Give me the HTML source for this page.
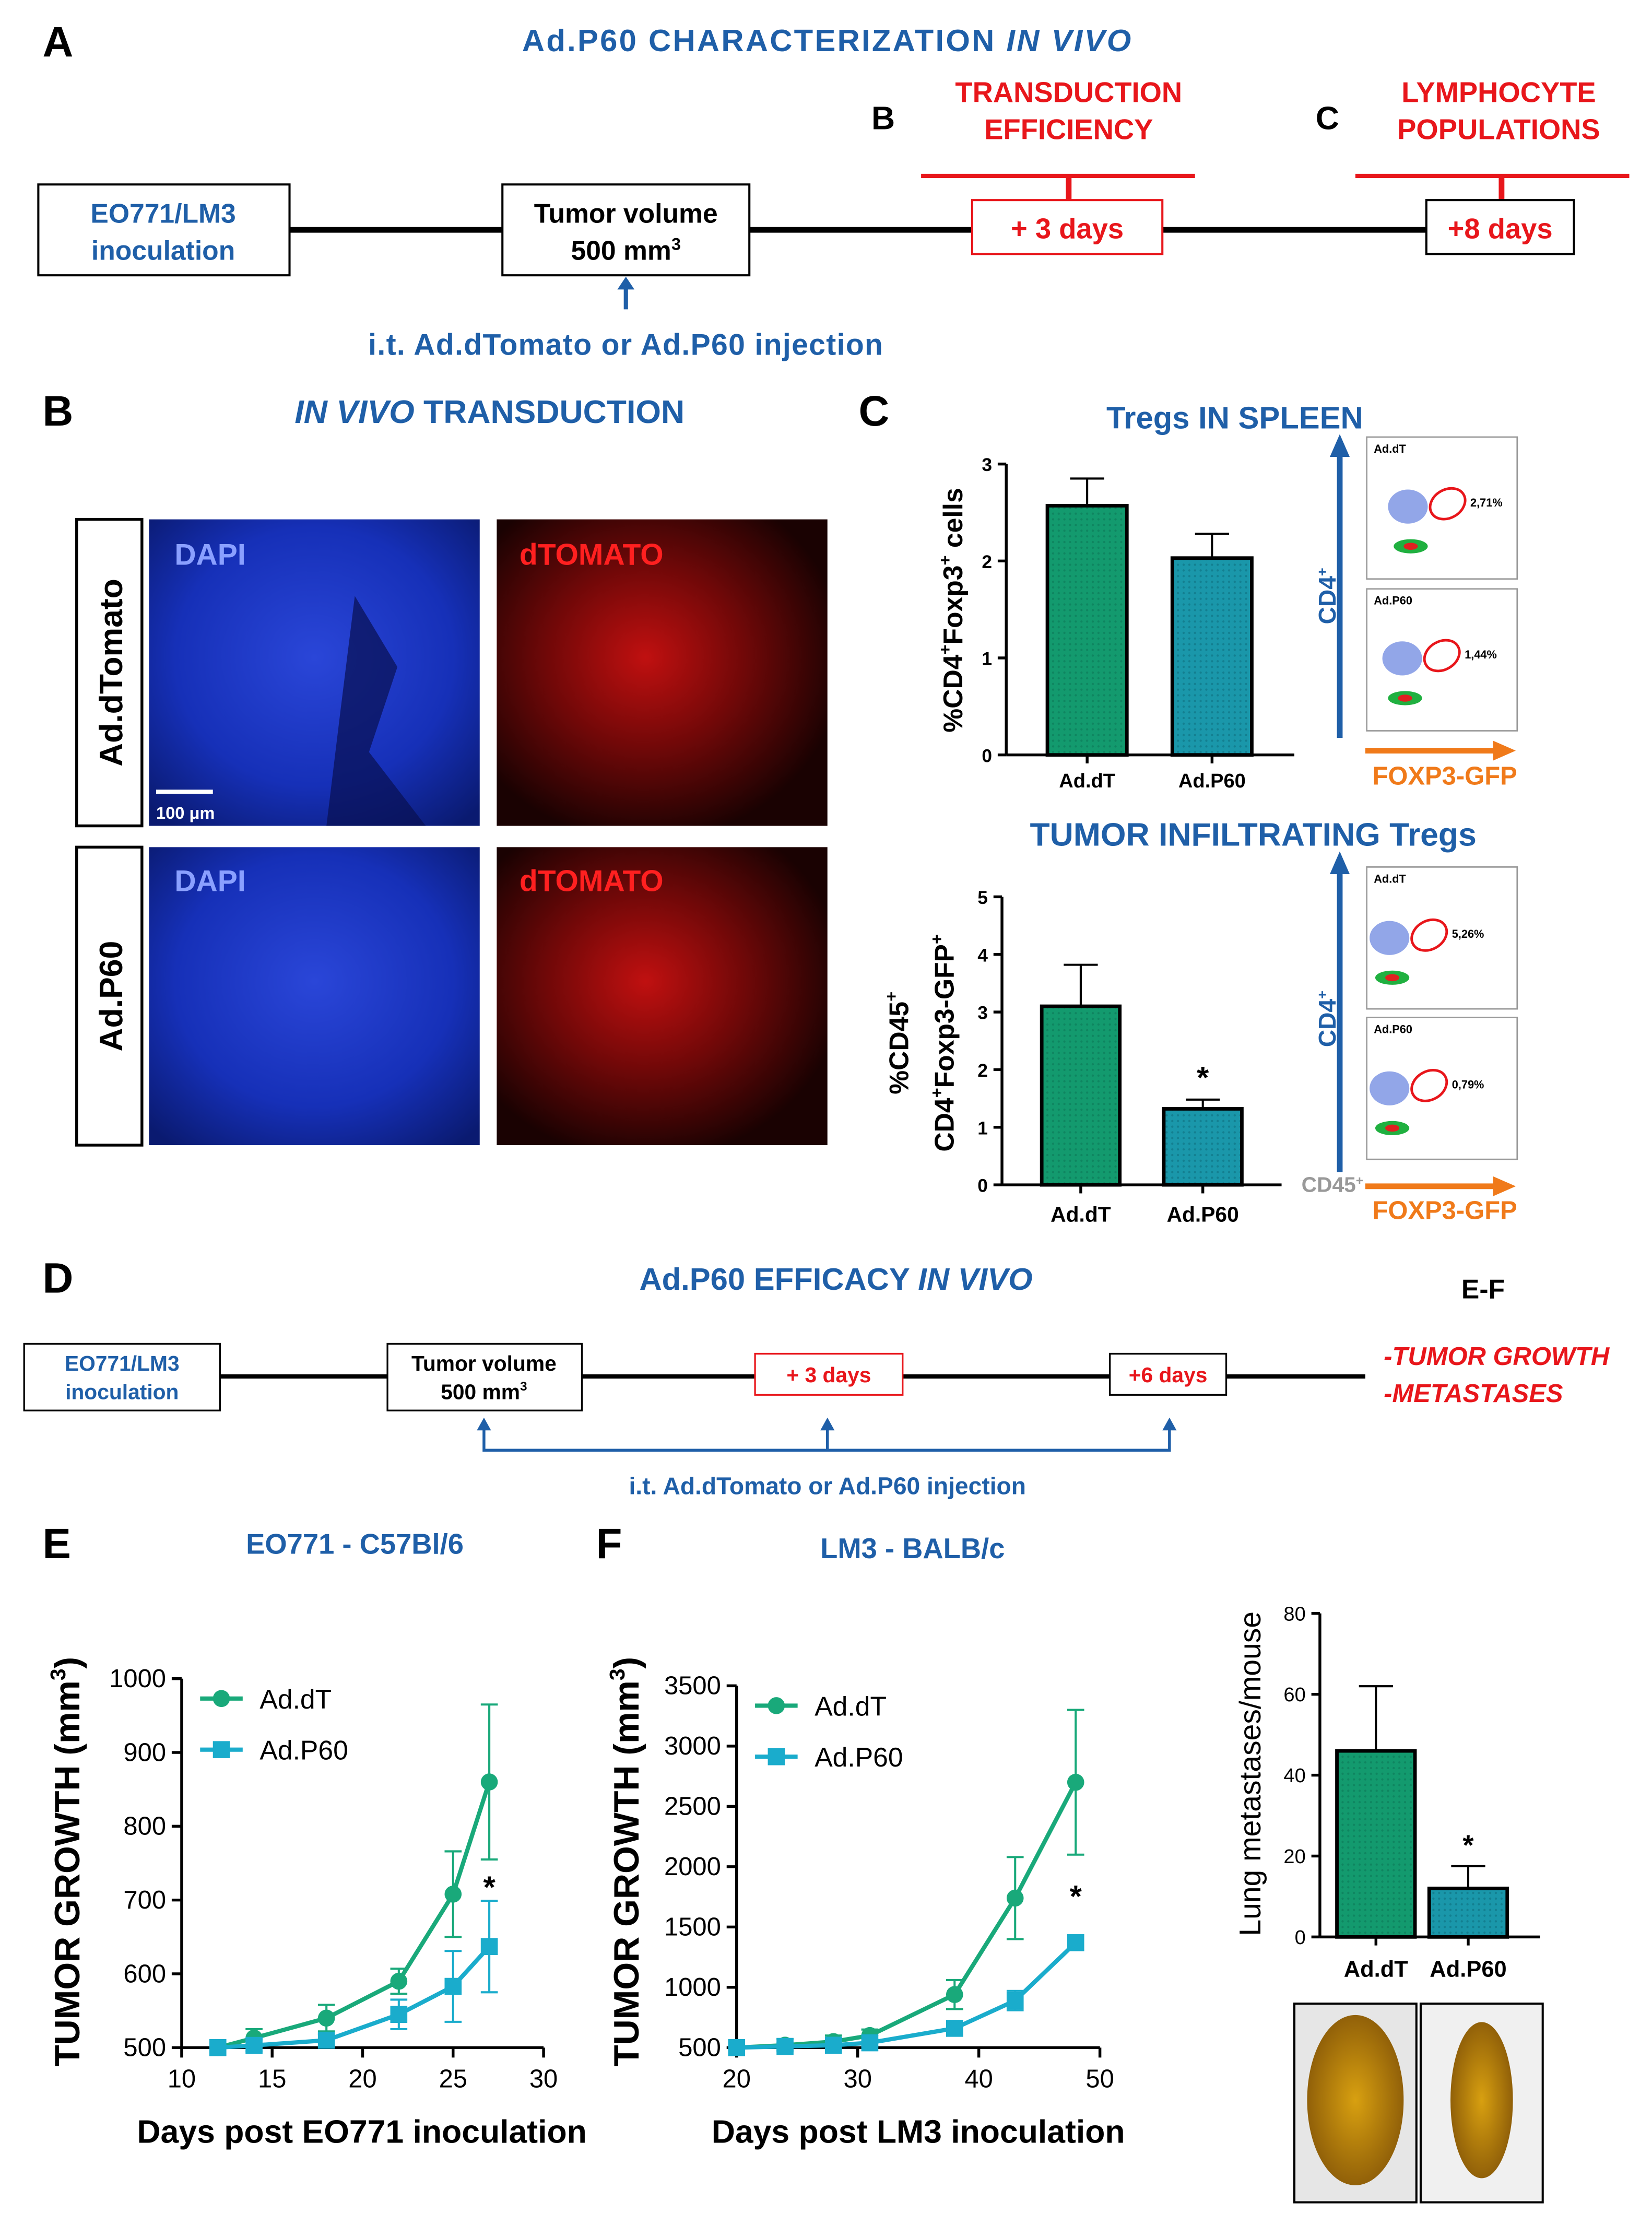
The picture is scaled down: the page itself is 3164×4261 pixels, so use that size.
<!DOCTYPE html>
<html><head><meta charset="utf-8">
<style>
html,body{margin:0;padding:0;background:#fff;}
svg{display:block;}
text{font-family:"Liberation Sans",sans-serif;}
</style></head>
<body>
<svg id="fig" width="3164" height="4261" viewBox="0 0 1164 1568" preserveAspectRatio="none" xmlns="http://www.w3.org/2000/svg">
<defs>
<pattern id="dots" width="4" height="4" patternUnits="userSpaceOnUse"><rect width="4" height="4" fill="#1a97aa"/><circle cx="2" cy="2" r="0.8" fill="#137f90"/></pattern>
<pattern id="dotsg" width="4" height="4" patternUnits="userSpaceOnUse"><rect width="4" height="4" fill="#139a6e"/><circle cx="2" cy="2" r="0.8" fill="#0f8560"/></pattern>
<radialGradient id="blue1" cx="50%" cy="45%" r="70%"><stop offset="0" stop-color="#2a46d8"/><stop offset="0.6" stop-color="#1630b8"/><stop offset="1" stop-color="#0a1a70"/></radialGradient>
<radialGradient id="red1" cx="45%" cy="45%" r="60%"><stop offset="0" stop-color="#c01010"/><stop offset="0.5" stop-color="#700808"/><stop offset="1" stop-color="#1a0202"/></radialGradient>
<radialGradient id="lung" cx="50%" cy="50%" r="55%"><stop offset="0" stop-color="#d8a010"/><stop offset="1" stop-color="#8a5a08"/></radialGradient>
</defs>

<!-- Panel A -->
<g>
<text x="30" y="40" font-size="30" font-weight="bold">A</text>
<text x="583" y="36" font-size="22" font-weight="bold" fill="#1f5fa8" text-anchor="middle" letter-spacing="1.2">Ad.P60 CHARACTERIZATION <tspan font-style="italic">IN VIVO</tspan></text>
<line x1="204" y1="162" x2="1005" y2="162" stroke="#000" stroke-width="4"/>
<rect x="27" y="130" width="177" height="64" fill="#fff" stroke="#000" stroke-width="1.5"/>
<text x="115" y="157" font-size="19" font-weight="bold" fill="#1f5fa8" text-anchor="middle">EO771/LM3</text>
<text x="115" y="183" font-size="19" font-weight="bold" fill="#1f5fa8" text-anchor="middle">inoculation</text>
<rect x="354" y="130" width="174" height="64" fill="#fff" stroke="#000" stroke-width="1.5"/>
<text x="441" y="157" font-size="19" font-weight="bold" text-anchor="middle">Tumor volume</text>
<text x="441" y="183" font-size="19" font-weight="bold" text-anchor="middle">500 mm<tspan font-size="12" dy="-7">3</tspan></text>
<line x1="441" y1="218" x2="441" y2="201" stroke="#1f5fa8" stroke-width="3"/>
<polygon points="435,204 447,204 441,195" fill="#1f5fa8"/>
<text x="441" y="250" font-size="21" font-weight="bold" fill="#1f5fa8" text-anchor="middle" letter-spacing="0.5">i.t. Ad.dTomato or Ad.P60 injection</text>
<text x="614" y="91" font-size="23" font-weight="bold">B</text>
<text x="753" y="72" font-size="20" font-weight="bold" fill="#e8161b" text-anchor="middle">TRANSDUCTION</text>
<text x="753" y="98" font-size="20" font-weight="bold" fill="#e8161b" text-anchor="middle">EFFICIENCY</text>
<line x1="649" y1="124" x2="842" y2="124" stroke="#e8161b" stroke-width="3"/>
<line x1="753" y1="124" x2="753" y2="142" stroke="#e8161b" stroke-width="4"/>
<rect x="685" y="141" width="134" height="38" fill="#fff" stroke="#e8161b" stroke-width="1.5"/>
<text x="752" y="168" font-size="20" font-weight="bold" fill="#e8161b" text-anchor="middle">+ 3 days</text>
<text x="927" y="91" font-size="23" font-weight="bold">C</text>
<text x="1056" y="72" font-size="20" font-weight="bold" fill="#e8161b" text-anchor="middle">LYMPHOCYTE</text>
<text x="1056" y="98" font-size="20" font-weight="bold" fill="#e8161b" text-anchor="middle">POPULATIONS</text>
<line x1="955" y1="124" x2="1148" y2="124" stroke="#e8161b" stroke-width="3"/>
<line x1="1058" y1="124" x2="1058" y2="142" stroke="#e8161b" stroke-width="4"/>
<rect x="1005" y="141" width="104" height="38" fill="#fff" stroke="#000" stroke-width="1.5"/>
<text x="1057" y="168" font-size="20" font-weight="bold" fill="#e8161b" text-anchor="middle">+8 days</text>
</g>

<!-- Panel B -->
<g>
<text x="30" y="300" font-size="30" font-weight="bold">B</text>
<text x="345" y="298" font-size="23" font-weight="bold" fill="#1f5fa8" text-anchor="middle"><tspan font-style="italic">IN VIVO</tspan> TRANSDUCTION</text>
<rect x="54" y="366" width="46" height="216" fill="#fff" stroke="#000" stroke-width="2"/>
<text transform="translate(86,474) rotate(-90)" font-size="23" font-weight="bold" text-anchor="middle">Ad.dTomato</text>
<rect x="54" y="597" width="46" height="210" fill="#fff" stroke="#000" stroke-width="2"/>
<text transform="translate(86,702) rotate(-90)" font-size="23" font-weight="bold" text-anchor="middle">Ad.P60</text>
<rect x="105" y="366" width="233" height="216" fill="url(#blue1)"/>
<path d="M250,420 L280,470 L260,530 L300,582 L230,582 L240,500 Z" fill="#081050" opacity="0.7"/>
<text x="123" y="398" font-size="21" font-weight="bold" fill="#8aa0ff">DAPI</text>
<line x1="110" y1="558" x2="150" y2="558" stroke="#fff" stroke-width="3"/>
<text x="110" y="577" font-size="12" font-weight="bold" fill="#fff">100 μm</text>
<rect x="350" y="366" width="233" height="216" fill="url(#red1)"/>
<text x="366" y="398" font-size="21" font-weight="bold" fill="#ff2020">dTOMATO</text>
<rect x="105" y="597" width="233" height="210" fill="url(#blue1)"/>
<text x="123" y="628" font-size="21" font-weight="bold" fill="#8aa0ff">DAPI</text>
<rect x="350" y="597" width="233" height="210" fill="url(#red1)"/>
<text x="366" y="628" font-size="21" font-weight="bold" fill="#ff2020">dTOMATO</text>
</g>

<!-- Panel C -->
<g>
<text x="605" y="300" font-size="30" font-weight="bold">C</text>
<text x="870" y="302" font-size="22" font-weight="bold" fill="#1f5fa8" text-anchor="middle">Tregs IN SPLEEN</text>
<text x="883" y="596" font-size="23" font-weight="bold" fill="#1f5fa8" text-anchor="middle">TUMOR INFILTRATING  Tregs</text>
<text transform="translate(678,430) rotate(-90)" font-size="19" font-weight="bold" text-anchor="middle">%CD4<tspan font-size="12" dy="-8">+</tspan><tspan dy="8">Foxp3</tspan><tspan font-size="12" dy="-8">+</tspan><tspan dy="8"> cells</tspan></text>
<text transform="translate(640,735) rotate(-90)" font-size="19" font-weight="bold" text-anchor="middle">%CD45<tspan font-size="12" dy="-8">+</tspan></text>
<text transform="translate(672,735) rotate(-90)" font-size="19" font-weight="bold" text-anchor="middle">CD4<tspan font-size="12" dy="-8">+</tspan><tspan dy="8">Foxp3-GFP</tspan><tspan font-size="12" dy="-8">+</tspan></text>
<g id="spleenChart"></g>
<g id="tumorChart"></g>
<line x1="944" y1="520" x2="944" y2="318" stroke="#1f5fa8" stroke-width="4"/><polygon points="937,322 951,322 944,306" fill="#1f5fa8"/>
<text transform="translate(941,420) rotate(-90)" font-size="17" font-weight="bold" fill="#1f5fa8" text-anchor="middle">CD4<tspan font-size="10" dy="-6">+</tspan></text>
<line x1="962" y1="529" x2="1055" y2="529" stroke="#f07a1a" stroke-width="4"/><polygon points="1052,522 1052,536 1068,529" fill="#f07a1a"/>
<text x="1018" y="553" font-size="18" font-weight="bold" fill="#f07a1a" text-anchor="middle">FOXP3-GFP</text>
<line x1="944" y1="826" x2="944" y2="612" stroke="#1f5fa8" stroke-width="4"/><polygon points="937,616 951,616 944,600" fill="#1f5fa8"/>
<text transform="translate(941,718) rotate(-90)" font-size="17" font-weight="bold" fill="#1f5fa8" text-anchor="middle">CD4<tspan font-size="10" dy="-6">+</tspan></text>
<text x="917" y="840" font-size="15" font-weight="bold" fill="#999">CD45<tspan font-size="9" dy="-5">+</tspan></text>
<line x1="962" y1="836" x2="1055" y2="836" stroke="#f07a1a" stroke-width="4"/><polygon points="1052,829 1052,843 1068,836" fill="#f07a1a"/>
<text x="1018" y="859" font-size="18" font-weight="bold" fill="#f07a1a" text-anchor="middle">FOXP3-GFP</text>
<g id="flows"></g>
</g>

<!-- Panel D -->
<g>
<text x="30" y="911" font-size="30" font-weight="bold">D</text>
<text x="589" y="909" font-size="22" font-weight="bold" fill="#1f5fa8" text-anchor="middle">Ad.P60 EFFICACY <tspan font-style="italic">IN VIVO</tspan></text>
<text x="1045" y="915" font-size="19" font-weight="bold" text-anchor="middle">E-F</text>
<line x1="155" y1="970" x2="962" y2="970" stroke="#000" stroke-width="3"/>
<rect x="17" y="947" width="138" height="47" fill="#fff" stroke="#000" stroke-width="1.2"/>
<text x="86" y="966" font-size="15" font-weight="bold" fill="#1f5fa8" text-anchor="middle">EO771/LM3</text>
<text x="86" y="986" font-size="15" font-weight="bold" fill="#1f5fa8" text-anchor="middle">inoculation</text>
<rect x="273" y="947" width="137" height="47" fill="#fff" stroke="#000" stroke-width="1.2"/>
<text x="341" y="966" font-size="15" font-weight="bold" text-anchor="middle">Tumor volume</text>
<text x="341" y="986" font-size="15" font-weight="bold" text-anchor="middle">500 mm<tspan font-size="9" dy="-6">3</tspan></text>
<rect x="532" y="954" width="104" height="29" fill="#fff" stroke="#e8161b" stroke-width="1.2"/>
<text x="584" y="974" font-size="15" font-weight="bold" fill="#e8161b" text-anchor="middle">+ 3 days</text>
<rect x="782" y="954" width="82" height="29" fill="#fff" stroke="#000" stroke-width="1.2"/>
<text x="823" y="974" font-size="15" font-weight="bold" fill="#e8161b" text-anchor="middle">+6 days</text>
<text x="975" y="962" font-size="18" font-weight="bold" font-style="italic" fill="#e8161b">-TUMOR GROWTH</text>
<text x="975" y="988" font-size="18" font-weight="bold" font-style="italic" fill="#e8161b">-METASTASES</text>
<path d="M341,1004 V1022 H824 V1004 M583,1004 V1022" fill="none" stroke="#1f5fa8" stroke-width="2"/>
<polygon points="336,1008 346,1008 341,999" fill="#1f5fa8"/><polygon points="578,1008 588,1008 583,999" fill="#1f5fa8"/><polygon points="819,1008 829,1008 824,999" fill="#1f5fa8"/>
<text x="583" y="1053" font-size="17" font-weight="bold" fill="#1f5fa8" text-anchor="middle">i.t. Ad.dTomato  or Ad.P60 injection</text>
</g>

<!-- Panels E / F -->
<text x="30" y="1098" font-size="30" font-weight="bold">E</text>
<text x="250" y="1095" font-size="20" font-weight="bold" fill="#1f5fa8" text-anchor="middle">EO771 - C57Bl/6</text>
<text x="420" y="1098" font-size="30" font-weight="bold">F</text>
<text x="643" y="1098" font-size="20" font-weight="bold" fill="#1f5fa8" text-anchor="middle">LM3 - BALB/c</text>
<text transform="translate(56,1312) rotate(-90)" font-size="25" font-weight="bold" text-anchor="middle">TUMOR GROWTH (mm<tspan font-size="15" dy="-10">3</tspan><tspan dy="10">)</tspan></text>
<text transform="translate(450,1312) rotate(-90)" font-size="25" font-weight="bold" text-anchor="middle">TUMOR GROWTH (mm<tspan font-size="15" dy="-10">3</tspan><tspan dy="10">)</tspan></text>
<text x="255" y="1510" font-size="23" font-weight="bold" text-anchor="middle">Days post EO771 inoculation</text>
<text x="647" y="1510" font-size="23" font-weight="bold" text-anchor="middle">Days post LM3 inoculation</text>
<g id="chartE"></g>
<g id="chartF"></g>
<text transform="translate(888,1250) rotate(-90)" font-size="21" text-anchor="middle">Lung metastases/mouse</text>
<g id="chartM"></g>
<rect x="912" y="1412" width="86" height="140" fill="#e6e6e6" stroke="#000" stroke-width="1.5"/>
<ellipse cx="955" cy="1480" rx="34" ry="60" fill="url(#lung)"/>
<rect x="1001" y="1412" width="86" height="140" fill="#f0f0f0" stroke="#000" stroke-width="1.5"/>
<ellipse cx="1044" cy="1480" rx="22" ry="55" fill="url(#lung)"/>

<script>
const spleenCats = ["Ad.dT", "Ad.P60"];
const spleenVals = [2.57, 2.03];
const spleenErr = [0.28, 0.25];
const spleenTicks = [0, 1, 2, 3];
const tumorCats = ["Ad.dT", "Ad.P60"];
const tumorVals = [3.1, 1.32];
const tumorErr = [0.72, 0.16];
const tumorTicks = [0, 1, 2, 3, 4, 5];
const eDays = [12, 14, 18, 22, 25, 27];
const eDT = [500, 513, 540, 590, 708, 860];
const eDTerr = [0, 12, 18, 17, 58, 105];
const eP60 = [500, 503, 510, 545, 583, 637];
const eP60err = [0, 8, 8, 20, 48, 62];
const eXTicks = [10, 15, 20, 25, 30];
const eYTicks = [500, 600, 700, 800, 900, 1000];
const fDays = [20, 24, 28, 31, 38, 43, 48];
const fDT = [500, 520, 550, 600, 940, 1740, 2700];
const fDTerr = [0, 50, 50, 50, 120, 340, 600];
const fP60 = [500, 510, 520, 540, 660, 890, 1370];
const fP60err = [0, 30, 30, 30, 60, 80, 60];
const fXTicks = [20, 30, 40, 50];
const fYTicks = [500, 1000, 1500, 2000, 2500, 3000, 3500];
const metCats = ["Ad.dT", "Ad.P60"];
const metVals = [46, 12];
const metErr = [16, 5.5];
const metTicks = [0, 20, 40, 60, 80];

const NS = "http://www.w3.org/2000/svg";
function mk(parent, tag, attrs, txt) {
  const e = document.createElementNS(NS, tag);
  for (const k in attrs) e.setAttribute(k, attrs[k]);
  if (txt !== undefined) e.textContent = txt;
  parent.appendChild(e);
  return e;
}

function barChart(g, cats, vals, errs, ticks, o) {
  const y = v => o.y0 - (v - ticks[0]) / (ticks[ticks.length - 1] - ticks[0]) * (o.y0 - o.y1);
  mk(g, "line", {x1: o.ax, y1: y(ticks[ticks.length-1]), x2: o.ax, y2: o.y0, stroke: "#000", "stroke-width": 2});
  mk(g, "line", {x1: o.ax, y1: o.y0, x2: o.axEnd, y2: o.y0, stroke: "#000", "stroke-width": 2});
  ticks.forEach(t => {
    const tk = mk(g, "line", {x1: o.ax - 6, y1: y(t), x2: o.ax, y2: y(t), stroke: "#000", "stroke-width": 2});
    
    
    const tl = mk(g, "text", {x: o.ax - 10, y: y(t) + 5, "font-size": o.fs, "font-weight": o.bold ? "bold" : "normal", "text-anchor": "end"}, t);
    
    
  });
  cats.forEach((c, i) => {
    const x = o.bx[i];
    const el = mk(g, "line", {x1: x + o.bw/2, y1: y(vals[i]), x2: x + o.bw/2, y2: y(vals[i] + errs[i]), stroke: "#000", "stroke-width": 1.5});
    
    
    mk(g, "line", {x1: x + o.bw/2 - 12, y1: y(vals[i] + errs[i]), x2: x + o.bw/2 + 12, y2: y(vals[i] + errs[i]), stroke: "#000", "stroke-width": 1.5});
    const r = mk(g, "rect", {x: x, y: y(vals[i]), width: o.bw, height: o.y0 - y(vals[i]), fill: i === 0 ? "url(#dotsg)" : "url(#dots)", stroke: "#000", "stroke-width": 2.5});
    
    
    mk(g, "line", {x1: x + o.bw/2, y1: o.y0, x2: x + o.bw/2, y2: o.y0 + 6, stroke: "#000", "stroke-width": 2});
    const lb = mk(g, "text", {x: x + o.bw/2, y: o.y0 + o.lblDy, "font-size": o.lfs, "font-weight": "bold", "text-anchor": "middle"}, c);
    
    
    if (o.star && o.star[i]) {
      const s = mk(g, "text", {x: x + o.bw/2, y: y(vals[i] + errs[i]) - 8, "font-size": o.starSize, "font-weight": "bold", "text-anchor": "middle"}, "*");
      
      
    }
  });
}

barChart(document.getElementById("spleenChart"), spleenCats, spleenVals, spleenErr, spleenTicks,
  {ax: 709, axEnd: 912, y0: 532, y1: 327, bx: [738, 826], bw: 56, fs: 13, bold: true, lfs: 14, lblDy: 23});
barChart(document.getElementById("tumorChart"), tumorCats, tumorVals, tumorErr, tumorTicks,
  {ax: 706, axEnd: 903, y0: 835, y1: 632, bx: [734, 820], bw: 55, fs: 13, bold: true, lfs: 15, lblDy: 26, star: [0, 1], starSize: 22});
barChart(document.getElementById("chartM"), metCats, metVals, metErr, metTicks,
  {ax: 930, axEnd: 1085, y0: 1365, y1: 1137, bx: [942, 1007], bw: 55, fs: 14, bold: false, lfs: 16, lblDy: 28, star: [0, 1], starSize: 20});

function lineChart(g, days, s1, e1, s2, e2, xt, yt, o) {
  const x = v => o.x0 + (v - xt[0]) / (xt[xt.length-1] - xt[0]) * (o.x1 - o.x0);
  const y = v => o.y0 - (v - yt[0]) / (yt[yt.length-1] - yt[0]) * (o.y0 - o.y1);
  mk(g, "line", {x1: o.x0, y1: o.y1, x2: o.x0, y2: o.y0, stroke: "#000", "stroke-width": 2});
  mk(g, "line", {x1: o.x0, y1: o.y0, x2: o.x1, y2: o.y0, stroke: "#000", "stroke-width": 2});
  yt.forEach(t => {
    mk(g, "line", {x1: o.x0 - 7, y1: y(t), x2: o.x0, y2: y(t), stroke: "#000", "stroke-width": 2});
    const l = mk(g, "text", {x: o.x0 - 11, y: y(t) + 6, "font-size": 18, "text-anchor": "end"}, t);
    
    
  });
  xt.forEach(t => {
    mk(g, "line", {x1: x(t), y1: o.y0, x2: x(t), y2: o.y0 + 7, stroke: "#000", "stroke-width": 2});
    const l = mk(g, "text", {x: x(t), y: o.y0 + 28, "font-size": 18, "text-anchor": "middle"}, t);
    
    
  });
  [[s1, e1, "#19a97a", "c"], [s2, e2, "#1aaccc", "s"]].forEach(([s, e, col, m], si) => {
    days.forEach((d, i) => {
      if (e[i] > 0) {
        mk(g, "line", {x1: x(d), y1: y(s[i] - e[i]), x2: x(d), y2: y(s[i] + e[i]), stroke: col, "stroke-width": 1.5});
        mk(g, "line", {x1: x(d) - 6, y1: y(s[i] + e[i]), x2: x(d) + 6, y2: y(s[i] + e[i]), stroke: col, "stroke-width": 1.5});
        mk(g, "line", {x1: x(d) - 6, y1: y(s[i] - e[i]), x2: x(d) + 6, y2: y(s[i] - e[i]), stroke: col, "stroke-width": 1.5});
      }
    });
    const pl = mk(g, "polyline", {points: days.map((d, i) => x(d) + "," + y(s[i])).join(" "), fill: "none", stroke: col, "stroke-width": 3});
    
    
    days.forEach((d, i) => {
      const p = m === "c" ? mk(g, "circle", {cx: x(d), cy: y(s[i]), r: 6, fill: col})
                          : mk(g, "rect", {x: x(d) - 6, y: y(s[i]) - 6, width: 12, height: 12, fill: col});
      
      
    });
  });
  const lx = o.x0 + 13, ly = o.y1 + 14;
  mk(g, "line", {x1: lx, y1: ly, x2: lx + 30, y2: ly, stroke: "#19a97a", "stroke-width": 3});
  mk(g, "circle", {cx: lx + 15, cy: ly, r: 6, fill: "#19a97a"});
  const t1 = mk(g, "text", {x: lx + 42, y: ly + 7, "font-size": 19}, "Ad.dT");
  
  
  mk(g, "line", {x1: lx, y1: ly + 36, x2: lx + 30, y2: ly + 36, stroke: "#1aaccc", "stroke-width": 3});
  mk(g, "rect", {x: lx + 9, y: ly + 30, width: 12, height: 12, fill: "#1aaccc"});
  const t2 = mk(g, "text", {x: lx + 42, y: ly + 43, "font-size": 19}, "Ad.P60");
  
  
  const si = days.length - 1;
  const st = mk(g, "text", {x: x(days[si]), y: y(s2[si] + e2[si]) - 12 + o.starDy, "font-size": 22, "font-weight": "bold", "text-anchor": "middle"}, "*");
  
  
}
lineChart(document.getElementById("chartE"), eDays, eDT, eDTerr, eP60, eP60err, eXTicks, eYTicks,
  {x0: 128, x1: 383, y0: 1443, y1: 1183, starDy: 10});
lineChart(document.getElementById("chartF"), fDays, fDT, fDTerr, fP60, fP60err, fXTicks, fYTicks,
  {x0: 519, x1: 775, y0: 1443, y1: 1188, starDy: -8});

const flows = document.getElementById("flows");
const flowPlots = [
  {y: 308, lbl: "Ad.dT", pct: "2,71%", ex: 1020, ey: 355},
  {y: 415, lbl: "Ad.P60", pct: "1,44%", ex: 1016, ey: 462},
  {y: 611, lbl: "Ad.dT", pct: "5,26%", ex: 1007, ey: 659},
  {y: 717, lbl: "Ad.P60", pct: "0,79%", ex: 1007, ey: 765}
];
flowPlots.forEach((f, i) => {
  const g = mk(flows, "g", {});
  
  
  mk(g, "rect", {x: 963, y: f.y, width: 106, height: 100, fill: "#fff", stroke: "#999", "stroke-width": 1});
  mk(g, "text", {x: 968, y: f.y + 11, "font-size": 8, "font-weight": "bold"}, f.lbl);
  mk(g, "ellipse", {cx: f.ex - 28, cy: f.ey + 2, rx: 14, ry: 12, fill: "#4a6ad8", opacity: 0.6});
  mk(g, "ellipse", {cx: f.ex - 26, cy: f.ey + 30, rx: 12, ry: 5, fill: "#20b040"});
  mk(g, "ellipse", {cx: f.ex - 26, cy: f.ey + 30, rx: 5, ry: 2.5, fill: "#e02020"});
  mk(g, "ellipse", {cx: f.ex, cy: f.ey, rx: 13, ry: 10, fill: "none", stroke: "#e8161b", "stroke-width": 1.8, transform: "rotate(-30 " + f.ex + " " + f.ey + ")"});
  mk(g, "text", {x: f.ex + 16, y: f.ey + 2, "font-size": 8, "font-weight": "bold"}, f.pct);
});
</script>
</svg>
</body></html>
